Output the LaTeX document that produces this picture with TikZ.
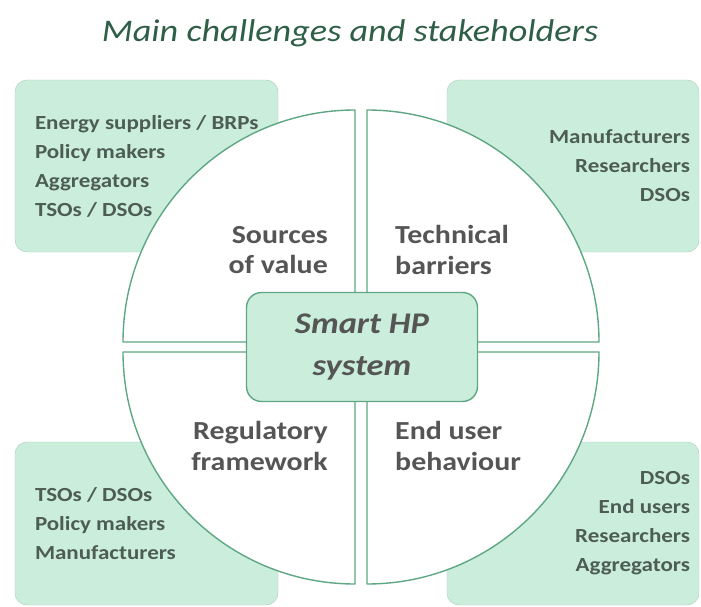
\documentclass[tikz,border=0pt]{standalone}
\usepackage{fontspec}
\setmainfont[FakeStretch=1.15]{Carlito}
\usepackage{xcolor}
\usetikzlibrary{positioning}
\definecolor{mint}{HTML}{CBEEDC}
\definecolor{leaf}{HTML}{5FA784}
\definecolor{titlegreen}{HTML}{2F5F47}
\definecolor{labelgray}{HTML}{555555}
\definecolor{listgray}{HTML}{4D5D55}

\begin{document}
\begin{tikzpicture}[
x=1pt, y=-1pt,
listbox/.style={fill=mint, rounded corners=12pt, draw=mint!85!black, line width=0.4pt},
listtext/.style={font=\fontsize{20}{29}\selectfont\bfseries, text=listgray, inner sep=0pt},
sector/.style={fill=white, draw=leaf, line width=1.4pt, line join=round},
sectorlabel/.style={font=\fontsize{26}{30.5}\selectfont\bfseries, text=labelgray, inner sep=0pt},
hubbox/.style={fill=mint, draw=leaf, line width=1.4pt, rounded corners=15pt, minimum width=231pt, minimum height=109pt, font=\fontsize{30}{42}\selectfont\bfseries\itshape, text=labelgray, align=center}
]
\useasboundingbox (0,0) rectangle (701,607);
% title
\node[font=\fontsize{31.5}{38}\selectfont\itshape, text=titlegreen] (title) at (350,33) {Main challenges and stakeholders};
% stakeholder boxes
\node[listbox, minimum width=263pt, minimum height=172pt] (tl) at (146.5,166) {};
\node[listbox, minimum width=252pt, minimum height=172pt] (tr) at (573,166) {};
\node[listbox, minimum width=263pt, minimum height=163pt] (bl) at (146.5,523.5) {};
\node[listbox, minimum width=252pt, minimum height=163pt] (br) at (573,523.5) {};
\node[listtext, align=left, anchor=west, right=20pt of tl.west] (tltext) {Energy suppliers / BRPs\\Policy makers\\Aggregators\\TSOs / DSOs};
\node[listtext, align=right, anchor=east, left=9pt of tr.east] (trtext) {Manufacturers\\Researchers\\DSOs};
\node[listtext, align=left, anchor=west, right=20pt of bl.west] (bltext) {TSOs / DSOs\\Policy makers\\Manufacturers};
\node[listtext, align=right, anchor=east, left=9pt of br.east] (brtext) {DSOs\\End users\\Researchers\\Aggregators};
% four quarters
\draw[sector] (355,342) -- ++(0,-232) arc[start angle=-90, end angle=-180, radius=232] -- cycle;
\draw[sector] (367,342) -- ++(0,-232) arc[start angle=-90, end angle=0, radius=232] -- cycle;
\draw[sector] (355,352) -- ++(-232,0) arc[start angle=180, end angle=90, radius=232] -- cycle;
\draw[sector] (367,352) -- ++(232,0) arc[start angle=0, end angle=90, radius=232] -- cycle;
\node[sectorlabel, align=right, anchor=east] (value) at (328,250) {Sources\\of value};
\node[sectorlabel, align=left, anchor=west] (tech) at (395,250) {Technical\\barriers};
\node[sectorlabel, align=right, anchor=east] (reg) at (328,446) {Regulatory\\framework};
\node[sectorlabel, align=left, anchor=west] (user) at (395,446) {End user\\behaviour};
% centre
\node[hubbox] (hub) at (362,347) {Smart HP\\system};
\end{tikzpicture}
\end{document}
